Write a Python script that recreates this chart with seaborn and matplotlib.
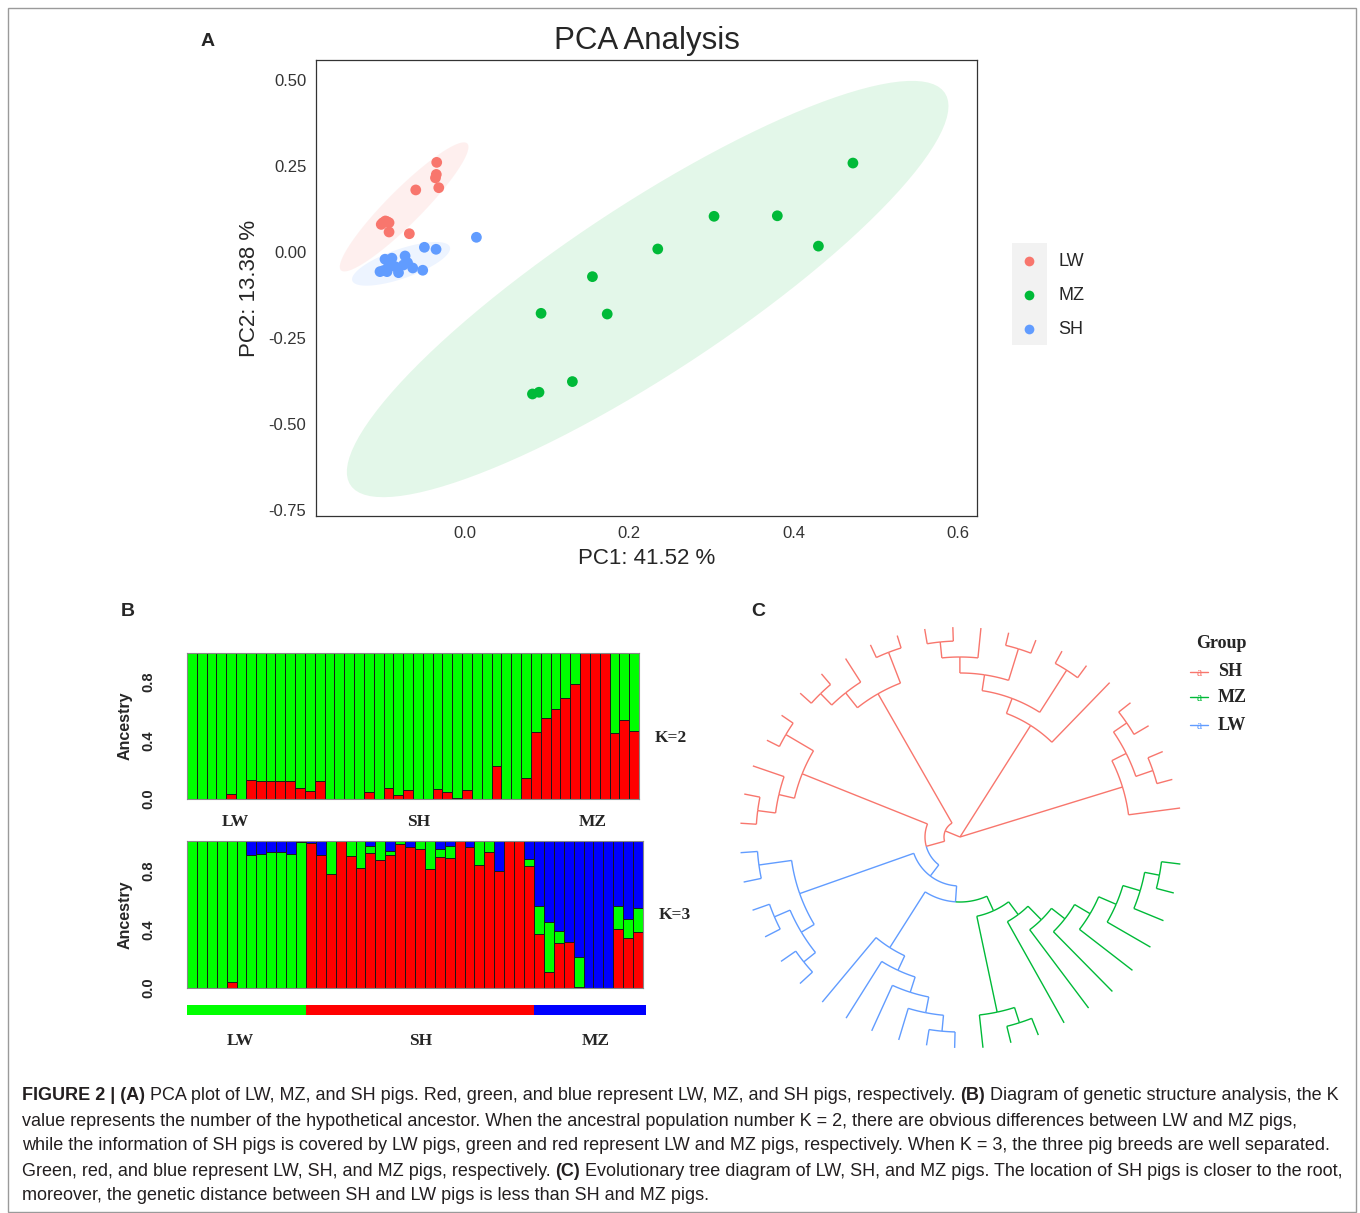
import numpy as np
import pandas as pd
import matplotlib
matplotlib.use("Agg")
import matplotlib.pyplot as plt
from matplotlib.patches import Rectangle
from matplotlib.lines import Line2D
import seaborn as sns

# ---------------- data: (A) PCA ----------------
lw_pc1 = [-0.0345, -0.035, -0.036, -0.032, -0.060, -0.097, -0.102, -0.0925, -0.0925, -0.0678, -0.095, -0.100]
lw_pc2 = [0.260, 0.225, 0.215, 0.1865, 0.180, 0.090, 0.080, 0.085, 0.058, 0.053, 0.088, 0.085]
mz_pc1 = [0.472, 0.303, 0.380, 0.430, 0.2345, 0.155, 0.0925, 0.173, 0.1306, 0.090, 0.082]
mz_pc2 = [0.258, 0.1035, 0.105, 0.017, 0.0087, -0.0716, -0.178, -0.180, -0.376, -0.407, -0.412]
sh_pc1 = [0.0138, -0.0495, -0.0353, -0.0974, -0.089, -0.073, -0.0994, -0.1035, -0.0933, -0.081,
          -0.075, -0.0637, -0.0515, -0.085, -0.095, -0.070]
sh_pc2 = [0.0426, 0.0136, 0.0078, -0.021, -0.018, -0.0116, -0.054, -0.057, -0.0426, -0.060,
          -0.0377, -0.0464, -0.053, -0.0426, -0.057, -0.031]
pca_groups = ["LW", "MZ", "SH"]
pca_colors = ["#F8766D", "#00BA38", "#619CFF"]
pc1_label = "PC1: 41.52 %"
pc2_label = "PC2: 13.38 %"

# ---------------- data: (B) admixture ----------------
breeds = ["LW", "SH", "MZ"]
breed_sizes = [12, 23, 11]
k2_red = [0, 0, 0, 0, 0.036, 0, 0.13, 0.125, 0.125, 0.125, 0.125, 0.077, 0.057, 0.125, 0, 0,
          0, 0, 0.05, 0, 0.077, 0.03, 0.059, 0, 0, 0.068, 0.045, 0.01, 0.064, 0, 0, 0.227,
          0, 0, 0.143, 0.46, 0.555, 0.618, 0.695, 0.79, 1, 1, 1, 0.45, 0.54, 0.466]
k3_red = [0, 0, 0, 0, 0.038, 0, 0, 0, 0, 0, 0, 0, 0.987, 0.903, 0.776, 1, 0.898, 0.815, 0.916,
          0.871, 0.903, 0.977, 0.962, 0.943, 0.808, 0.894, 0.882, 1, 0.962, 0.839, 0.925, 0.799,
          1, 1, 0.828, 0.367, 0.109, 0.305, 0.314, 0.005, 0, 0, 0, 0.403, 0.339, 0.38]
k3_green = [1, 1, 1, 1, 0.962, 1, 0.905, 0.91, 0.928, 0.923, 0.914, 0.99, 0, 0, 0.224, 0, 0.102,
            0.185, 0.052, 0.129, 0.032, 0.023, 0, 0.057, 0.192, 0.052, 0.086, 0, 0, 0.161, 0.075,
            0, 0, 0, 0.052, 0.188, 0.342, 0.086, 0, 0.205, 0, 0, 0, 0.156, 0.131, 0.161]
k3_blue = [0, 0, 0, 0, 0, 0, 0.095, 0.09, 0.072, 0.077, 0.086, 0.01, 0.013, 0.097, 0, 0, 0, 0,
           0.032, 0, 0.065, 0, 0.038, 0, 0, 0.054, 0.032, 0, 0.038, 0, 0, 0.201, 0, 0, 0.12,
           0.445, 0.549, 0.609, 0.686, 0.79, 1, 1, 1, 0.441, 0.53, 0.459]

# ---------------- data: (C) NJ tree (branch lengths) ----------------
clade_mz = ("((((((((g1:0.019,g2:0.018):0.015,g3:0.032):0.018,g4:0.050):0.019,g5:0.067):0.018,"
            "g6:0.084):0.017,g7:0.098):0.019,g8:0.116):0.016,((g9:0.018,g10:0.017):0.016,g11:0.033):0.098)")
clade_lw_a = "(((((b1:0.016,b2:0.016):0.016,b3:0.033):0.016,b4:0.050):0.016,b5:0.067):0.016,b6:0.084)"
clade_lw_b = "(((b7:0.017,b8:0.018):0.015,(b9:0.017,b10:0.018):0.017):0.015,(b11:0.018,b12:0.017):0.033)"
clade_sh_a = "(((t1:0.016,t2:0.016):0.018,t3:0.033):0.016,(t4:0.014,t5:0.014):0.032)"
clade_sh_b = "(((t6:0.015,t7:0.014):0.016,t8:0.028):0.019,(t9:0.014,t10:0.013):0.033)"
clade_sh_c = ("(((((t11:0.015,t12:0.014):0.016,t13:0.030):0.016,(t14:0.013,t15:0.014):0.033):0.016,"
              "(t16:0.014,t17:0.015):0.050):0.016,t18:0.083)")
clade_sh_d = "(((t19:0.015,t20:0.017):0.016,(t21:0.016,t22:0.016):0.018):0.016,t23:0.052)"
tree_newick = (f"((((({clade_mz}:0.016,{clade_lw_a}:0.066):0.016,{clade_lw_b}:0.121):0.014,"
               f"{clade_sh_a}:0.135):0.019,{clade_sh_b}:0.149):0.016,{clade_sh_c}:0.132,{clade_sh_d}:0.170);")
tree_groups = ["SH", "MZ", "LW"]
tree_prefix = {"SH": "t", "MZ": "g", "LW": "b"}
tree_colors = {"SH": "#F8766D", "MZ": "#00BA38", "LW": "#619CFF"}

caption_lines = [
    [("FIGURE 2 | (A)", True), (" PCA plot of LW, MZ, and SH pigs. Red, green, and blue represent LW, MZ, and SH pigs, respectively. ", False),
     ("(B)", True), (" Diagram of genetic structure analysis, the K", False)],
    [("value represents the number of the hypothetical ancestor. When the ancestral population number K = 2, there are obvious differences between LW and MZ pigs,", False)],
    [("while the information of SH pigs is covered by LW pigs, green and red represent LW and MZ pigs, respectively. When K = 3, the three pig breeds are well separated.", False)],
    [("Green, red, and blue represent LW, SH, and MZ pigs, respectively. ", False), ("(C)", True),
     (" Evolutionary tree diagram of LW, SH, and MZ pigs. The location of SH pigs is closer to the root,", False)],
    [("moreover, the genetic distance between SH and LW pigs is less than SH and MZ pigs.", False)],
]

# ---------------- helpers ----------------
sns.set_style("white")
plt.rcParams["font.family"] = ["Liberation Sans", "DejaVu Sans"]
W, H = 1360, 1213
fig = plt.figure(figsize=(W / 100, H / 100), dpi=100)


def box(l, t, r, b):
    return [l / W, 1 - b / H, (r - l) / W, (b - t) / H]


def fpt(x, y):
    return x / W, 1 - y / H


def cov_trob(x, nu=5, maxit=25, tol=0.01):
    n, p = x.shape
    loc = x.mean(0)
    w = np.ones(n)
    for _ in range(maxit):
        w0 = w
        X = x - loc
        S = (w[:, None] * X).T @ X / w.sum()
        Q = np.einsum("ij,jk,ik->i", X, np.linalg.inv(S), X)
        w = (nu + p) / (nu + Q)
        loc = (w[:, None] * x).sum(0) / w.sum()
        if np.all(np.abs(w - w0) < tol):
            break
    cov = (w[:, None] * X).T @ X / n
    return loc, cov


def t_ellipse(x, level=0.95, segments=120):
    n = len(x)
    loc, cov = cov_trob(x)
    d = n - 1
    qf = d / 2 * ((1 - level) ** (-2 / d) - 1)   # F(2, d) quantile
    radius = np.sqrt(2 * qf)
    ang = np.linspace(0, 2 * np.pi, segments)
    unit = np.column_stack([np.cos(ang), np.sin(ang)])
    U = np.linalg.cholesky(cov).T
    return loc + radius * unit @ U


# ---------------- (A) PCA ----------------
df = pd.DataFrame({
    "PC1": lw_pc1 + mz_pc1 + sh_pc1,
    "PC2": lw_pc2 + mz_pc2 + sh_pc2,
    "Group": ["LW"] * len(lw_pc1) + ["MZ"] * len(mz_pc1) + ["SH"] * len(sh_pc1),
})
palette = dict(zip(pca_groups, pca_colors))
axA = fig.add_axes(box(316, 60, 977, 516))
for g in pca_groups:
    sub = df[df.Group == g][["PC1", "PC2"]].to_numpy()
    e = t_ellipse(sub)
    axA.fill(e[:, 0], e[:, 1], color=palette[g], alpha=0.11, lw=0, zorder=1)
sns.scatterplot(data=df, x="PC1", y="PC2", hue="Group", palette=palette, s=60,
                edgecolor="none", legend=False, ax=axA, zorder=3)
axA.set_xlim(-0.1814, 0.623)
axA.set_ylim(-0.766, 0.557)
axA.set_xticks([0, 0.2, 0.4, 0.6])
axA.set_xticklabels(["0.0", "0.2", "0.4", "0.6"])
axA.set_yticks([-0.75, -0.5, -0.25, 0, 0.25, 0.5])
axA.set_yticklabels(["-0.75", "-0.50", "-0.25", "0.00", "0.25", "0.50"])
axA.tick_params(length=4, width=0.8, color="#333333", labelsize=12, labelcolor="#333333", pad=3)
for sp in axA.spines.values():
    sp.set_color("#333333")
    sp.set_linewidth(0.9)
axA.set_xlabel(pc1_label, fontsize=16, labelpad=5)
axA.set_ylabel(pc2_label, fontsize=16, labelpad=6)
axA.set_title("PCA Analysis", fontsize=22.5, pad=8)

# legend (ggplot-like key column)
fig.add_artist(Rectangle(fpt(1012, 345), 35 / W, 102 / H, transform=fig.transFigure,
                         facecolor="#F2F2F2", edgecolor="none"))
for i, g in enumerate(pca_groups):
    yy = 261 + 34 * i
    fig.add_artist(Line2D([1029 / W], [1 - yy / H], marker="o", markersize=7,
                          color=palette[g], markeredgewidth=0, transform=fig.transFigure))
    fig.text(1058 / W, 1 - yy / H, g, fontsize=13, va="center", ha="left")

# ---------------- (B) admixture ----------------
idx = np.arange(len(k2_red))
bar_kw = dict(width=1, edgecolor="#1a1a1a", linewidth=0.7, errorbar=None, saturation=1)

axK2 = fig.add_axes(box(187, 653, 639, 799))
sns.barplot(x=idx, y=np.ones(len(k2_red)), color="#00FF00", ax=axK2, **bar_kw)
sns.barplot(x=idx, y=k2_red, color="#FF0000", ax=axK2, **bar_kw)

axK3 = fig.add_axes(box(187, 841, 643, 988))
sns.barplot(x=idx, y=np.add(np.add(k3_red, k3_green), k3_blue), color="#0000FF", ax=axK3, **bar_kw)
sns.barplot(x=idx, y=np.add(k3_red, k3_green), color="#00FF00", ax=axK3, **bar_kw)
sns.barplot(x=idx, y=k3_red, color="#FF0000", ax=axK3, **bar_kw)

for ax, ktxt, ky in [(axK2, "K=2", 0.418), (axK3, "K=3", 0.497)]:
    ax.set_xlim(-0.5, len(idx) - 0.5)
    ax.set_ylim(0, 1)
    ax.set_xticks([])
    ax.set_xlabel("")
    ax.set_yticks([0, 0.4, 0.8])
    ax.set_yticklabels(["0.0", "0.4", "0.8"], rotation=90, va="center", fontweight="bold")
    ax.tick_params(axis="y", length=5, width=0.8, labelsize=10.5, pad=18)
    ax.set_ylabel("Ancestry", fontsize=11.5, fontweight="bold", labelpad=6)
    for sp in ax.spines.values():
        sp.set_color("#888888")
        sp.set_linewidth(0.8)
    ax.text(1.035, ky, ktxt, transform=ax.transAxes, fontsize=12.5, fontweight="bold",
            family="Liberation Serif", va="center", ha="left")

# breed colour strip under K=3
edges = np.concatenate([[0], np.cumsum(breed_sizes)]) - 0.5
for (x0, x1), c in zip(zip(edges[:-1], edges[1:]), ["#00FF00", "#FF0000", "#0000FF"]):
    axK3.add_patch(Rectangle((x0, -0.184), x1 - x0 + (0.3 if c == "#0000FF" else 0), 0.068,
                             transform=axK3.get_xaxis_transform(), clip_on=False,
                             facecolor=c, edgecolor="none"))
for names, xs, y in [(breeds, [235, 419, 593], 822), (breeds, [240, 421, 596], 1041)]:
    for nm, xx in zip(names, xs):
        fig.text(xx / W, 1 - y / H, nm, fontsize=12.5, fontweight="bold",
                 family="Liberation Serif", ha="center", va="center")

# ---------------- (C) circular tree ----------------
def parse_newick(s):
    s = s.strip().rstrip(";")
    pos = 0

    def node():
        nonlocal pos
        kids = []
        if s[pos] == "(":
            pos += 1
            kids.append(node())
            while s[pos] == ",":
                pos += 1
                kids.append(node())
            pos += 1
        st = pos
        while pos < len(s) and s[pos] not in ",():":
            pos += 1
        name = s[st:pos]
        blen = 0.0
        if pos < len(s) and s[pos] == ":":
            pos += 1
            st = pos
            while pos < len(s) and s[pos] not in ",()":
                pos += 1
            blen = float(s[st:pos])
        return {"name": name, "len": blen, "kids": kids}

    return node()


tree = parse_newick(tree_newick)
leaf_counter = [0]


def layout(nd, r0):
    nd["r"] = r0 + nd["len"]
    if not nd["kids"]:
        nd["y"] = leaf_counter[0]
        leaf_counter[0] += 1
        nd["tips"] = {nd["name"]}
    else:
        for k in nd["kids"]:
            layout(k, nd["r"])
        nd["y"] = np.mean([k["y"] for k in nd["kids"]])
        nd["tips"] = set().union(*[k["tips"] for k in nd["kids"]])


tree["len"] = 0.0
layout(tree, 0.0)
n_tips = leaf_counter[0]
start_deg, gap_deg = -7.0, 14.5
step = (360 - gap_deg) / (n_tips - 1)


def all_nodes(nd):
    yield nd
    for k in nd["kids"]:
        yield from all_nodes(k)


for nd in all_nodes(tree):
    nd["a"] = np.deg2rad(start_deg - nd["y"] * step)
    nd["grp"] = None

# groupOTU-style colouring: paths from each group's MRCA down to its tips
for g in tree_groups:
    tipset = {t for t in tree["tips"] if t.startswith(tree_prefix[g]) and t[1:].isdigit()}
    mrca = tree
    while True:
        nxt = [k for k in mrca["kids"] if tipset <= k["tips"]]
        if not nxt:
            break
        mrca = nxt[0]
    for nd in all_nodes(mrca):
        if nd["tips"] & tipset:
            nd["grp"] = g

axC = fig.add_axes(box(720, 597, 1200, 1077))
lw_tree = 1.0


def draw(nd):
    for k in nd["kids"]:
        col = tree_colors[k["grp"]]
        aa = np.linspace(nd["a"], k["a"], 60)
        axC.plot(nd["r"] * np.cos(aa), nd["r"] * np.sin(aa), color=col, lw=lw_tree, solid_capstyle="butt")
        axC.plot([nd["r"] * np.cos(k["a"]), k["r"] * np.cos(k["a"])],
                 [nd["r"] * np.sin(k["a"]), k["r"] * np.sin(k["a"])], color=col, lw=lw_tree,
                 solid_capstyle="butt")
        draw(k)


draw(tree)
axC.set_xlim(-0.24, 0.24)
axC.set_ylim(-0.24, 0.24)
axC.set_aspect("equal")
axC.axis("off")

fig.text(1221 / W, 1 - 644 / H, "Group", fontsize=13, fontweight="bold", family="Liberation Serif",
         ha="center", va="center")
for i, g in enumerate(tree_groups):
    yy = [672, 697, 725][i]
    fig.add_artist(Line2D([1190 / W, 1208 / W], [1 - yy / H] * 2, color=tree_colors[g], lw=1,
                          transform=fig.transFigure))
    fig.text(1199 / W, 1 - (yy + 1) / H, "a", fontsize=8.5, color=tree_colors[g], ha="center",
             va="center", family="Liberation Serif")
    fig.text(1218 / W, 1 - yy / H, g, fontsize=13, fontweight="bold", family="Liberation Serif",
             ha="left", va="center")

# ---------------- panel letters ----------------
for lab, (xx, yy) in {"A": (208, 42), "B": (128, 611), "C": (758, 611)}.items():
    fig.text(xx / W, 1 - yy / H, lab, fontsize=14, fontweight="bold", ha="center", va="center")

# ---------------- caption ----------------
fig.add_artist(Rectangle((8 / W, 1 - 1212 / H), 1348 / W, 1204 / H, transform=fig.transFigure,
                         facecolor="none", edgecolor="#9a9a9a", lw=1))
renderer = fig.canvas.get_renderer()
cap_fs = 12.95


def run_width(s, bold):
    t1 = fig.text(0, 0, "|" + s + "|", fontsize=cap_fs, fontweight="bold" if bold else "normal")
    t2 = fig.text(0, 0, "||", fontsize=cap_fs, fontweight="bold" if bold else "normal")
    w = t1.get_window_extent(renderer).width - t2.get_window_extent(renderer).width
    t1.remove()
    t2.remove()
    return w


for li, runs in enumerate(caption_lines):
    x = 22.0
    y = 1096 + 25 * li
    for s, bold in runs:
        fig.text(x / W, 1 - y / H, s, fontsize=cap_fs, fontweight="bold" if bold else "normal",
                 color="#231F20", ha="left", va="center")
        x += run_width(s, bold)

fig.savefig("out.png", dpi=100)
plt.close(fig)
